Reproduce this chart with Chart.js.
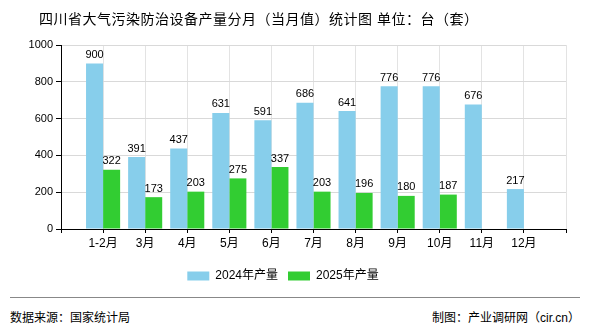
<!DOCTYPE html>
<html>
<head>
<meta charset="utf-8">
<script src="https://cdn.jsdelivr.net/npm/chart.js@4/dist/chart.umd.min.js"></script>
<style>
  body { margin: 0; background: #fff; }
  #wrap { position: relative; width: 590px; height: 330px; font-family: "Liberation Sans", "Noto Sans CJK SC", sans-serif; color: #000; }
  #title { position: absolute; left: 39px; top: 8px; font-size: 14px; letter-spacing: 0.5px; white-space: nowrap; }
  #cv { position: absolute; left: 0; top: 0; }
  #rule { position: absolute; left: 10px; top: 297px; width: 570px; height: 0; border-top: 1px solid #888; }
  #src { position: absolute; left: 10px; top: 308px; font-size: 12px; }
  #by { position: absolute; right: 10px; top: 308px; font-size: 12px; }
</style>
</head>
<body>
<div id="wrap">
  <canvas id="cv" width="590" height="295"></canvas>
  <div id="title">四川省大气污染防治设备产量分月（当月值）统计图 单位：台（套）</div>
  <div id="rule"></div>
  <div id="src">数据来源：国家统计局</div>
  <div id="by">制图：产业调研网（cir.cn）</div>
</div>
<script>
(function(){
  'use strict';

  // empty slots at both ends keep the axis padding of the original
  var months = ['', '1-2月', '3月', '4月', '5月', '6月', '7月', '8月', '9月', '10月', '11月', '12月', ''];
  var output2024 = [null, 900, 391, 437, 631, 591, 686, 641, 776, 776, 676, 217, null];
  var output2025 = [null, 322, 173, 203, 275, 337, 203, 196, 180, 187, null, null, null];
  var yTicks = [0, 200, 400, 600, 800, 1000];

  var fontFamily = '"Liberation Sans", "Noto Sans CJK SC", sans-serif';

  var valueLabels = {
    id: 'valueLabels',
    afterDatasetsDraw: function(chart){
      var ctx = chart.ctx;
      ctx.save();
      ctx.font = '11px ' + fontFamily;
      ctx.fillStyle = '#000';
      ctx.textAlign = 'center';
      ctx.textBaseline = 'bottom';
      chart.data.datasets.forEach(function(ds, i){
        chart.getDatasetMeta(i).data.forEach(function(bar, j){
          if (ds.data[j] == null) return;
          ctx.fillText(ds.data[j], bar.x, bar.y - 3);
        });
      });
      ctx.restore();
    }
  };

  new Chart(document.getElementById('cv'), {
    type: 'bar',
    data: {
      labels: months,
      datasets: [
        { label: '2024年产量', data: output2024, backgroundColor: '#87CEEB' },
        { label: '2025年产量', data: output2025, backgroundColor: '#32CD32' }
      ]
    },
    options: {
      responsive: false,
      animation: false,
      categoryPercentage: 0.81,
      barPercentage: 1,
      layout: { padding: { top: 45, right: 24, bottom: 3, left: 0 } },
      plugins: {
        tooltip: { enabled: false },
        legend: {
          position: 'bottom',
          labels: {
            boxWidth: 22, boxHeight: 9, padding: 10,
            color: '#000',
            font: { size: 12, family: fontFamily }
          }
        }
      },
      scales: {
        x: {
          offset: false,
          grid: { offset: false, color: '#e3e3e3', tickColor: '#000', tickLength: 4 },
          border: { color: '#000' },
          ticks: { color: '#000', padding: 3, maxRotation: 0, autoSkip: false, font: { size: 12, family: fontFamily } },
          afterFit: function(s){ s.height = 31; }
        },
        y: {
          min: 0, max: 1000,
          afterBuildTicks: function(s){ s.ticks = yTicks.map(function(v){ return { value: v }; }); },
          grid: { color: '#d9d9d9', tickColor: '#000', tickLength: 5 },
          border: { color: '#000' },
          ticks: {
            color: '#000', padding: 3, font: { size: 11, family: fontFamily },
            callback: function(v){ return String(v); }
          },
          afterFit: function(s){ s.width = 61; }
        }
      }
    },
    plugins: [valueLabels]
  });
})();
</script>
</body>
</html>
